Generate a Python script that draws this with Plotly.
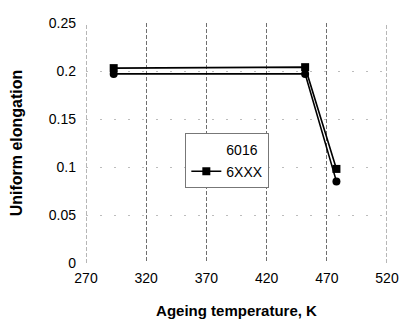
import plotly.graph_objects as go

# Ageing temperature (K) and uniform elongation for two alloys
temps = [293, 452, 478]
elong_6016 = [0.197, 0.197, 0.085]
elong_6xxx = [0.203, 0.204, 0.098]

x_ticks = [270, 320, 370, 420, 470, 520]
y_ticks = [0, 0.05, 0.1, 0.15, 0.2, 0.25]
y_tick_text = ["0", "0.05", "0.1", "0.15", "0.2", "0.25"]

GRID_X = dict(color="#6f6f6f", width=1, dash="4px,2px")

fig = go.Figure()

fig.add_trace(go.Scatter(
    x=temps, y=elong_6016, mode="lines+markers", name="6016", showlegend=False,
    line=dict(color="black", width=1.6),
    marker=dict(symbol="circle", size=8, color="black"),
))
# legend entry for 6016 drawn without a visible symbol
fig.add_trace(go.Scatter(
    x=[None], y=[None], mode="lines", name="6016",
    line=dict(color="rgba(0,0,0,0)", width=1),
))
fig.add_trace(go.Scatter(
    x=temps, y=elong_6xxx, mode="lines+markers", name="6XXX",
    line=dict(color="black", width=1.6),
    marker=dict(symbol="square", size=8, color="black"),
))

# grid lines at the two ends of the x range (plotly skips grid on the edges)
for xv in (x_ticks[0], x_ticks[-1]):
    fig.add_shape(type="line", xref="x", yref="paper", x0=xv, x1=xv, y0=0, y1=1,
                  line=GRID_X, layer="below")

font = dict(family="Liberation Sans, Arial, sans-serif", color="black", size=14)

fig.update_layout(
    width=400, height=324,
    margin=dict(l=86, r=13, t=23, b=61, autoexpand=False),
    paper_bgcolor="white", plot_bgcolor="white",
    font=font,
    legend=dict(
        x=0.33, y=0.54, xanchor="left", yanchor="top",
        bgcolor="white", bordercolor="#777", borderwidth=1,
        font=dict(size=14, family="Liberation Sans, Arial, sans-serif"),
        itemwidth=30, tracegroupgap=2,
    ),
)

fig.update_xaxes(
    range=[270, 520], tickvals=x_ticks, ticks="", showline=False, zeroline=False,
    automargin=False,
    showgrid=True, gridcolor=GRID_X["color"], gridwidth=1, griddash=GRID_X["dash"],
    tickfont=dict(size=14), ticklabelstandoff=5,
    title=dict(text="<b>Ageing temperature, K</b>", font=dict(size=15), standoff=20),
)
fig.update_yaxes(
    range=[0, 0.25], tickvals=y_ticks, ticktext=y_tick_text, ticks="", showline=False,
    automargin=False,
    zeroline=False, showgrid=True, gridcolor="#bdbdbd", gridwidth=1, griddash="2px,12px",
    tickfont=dict(size=14), ticklabelstandoff=9,
    title=dict(text="<b>Uniform elongation</b>", font=dict(size=16), standoff=22),
)

fig.write_html("out.html")
